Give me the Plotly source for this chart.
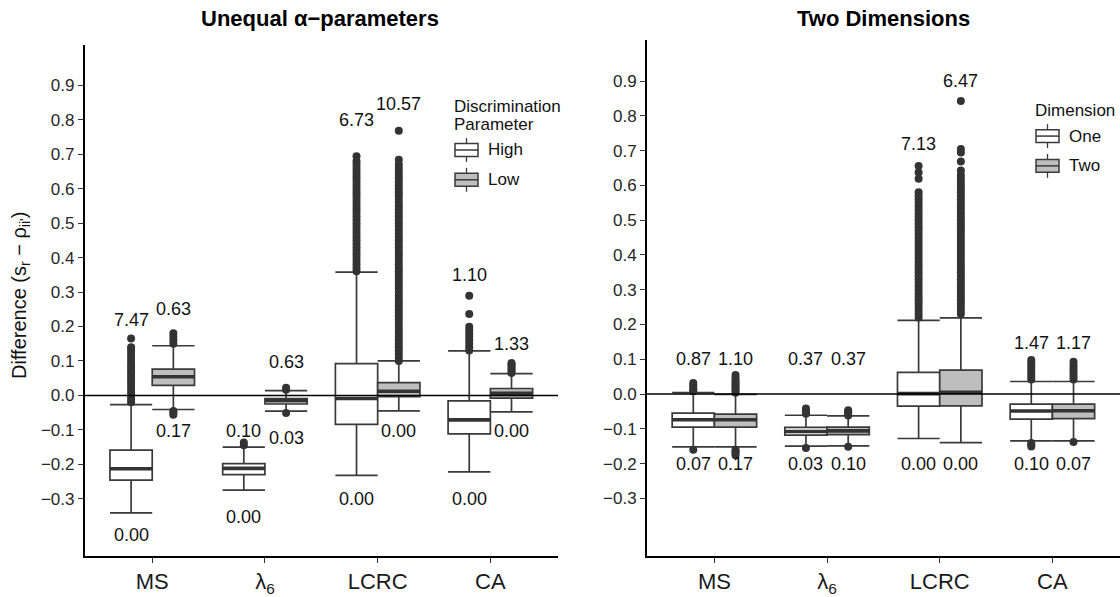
import plotly.graph_objects as go

FONT = "Liberation Sans, Arial, sans-serif"
W, H = 1120, 597

methods = ["MS", "λ<sub>6</sub>", "LCRC", "CA"]
positions = [1, 2, 3, 4]

# ---- Panel 1: Unequal alpha-parameters (High / Low discrimination) ----
high_q1 = [-0.246, -0.230, -0.084, -0.112]
high_med = [-0.213, -0.212, -0.009, -0.071]
high_q3 = [-0.159, -0.198, 0.092, -0.016]
high_lo = [-0.341, -0.275, -0.232, -0.222]
high_hi = [-0.027, -0.150, 0.358, 0.129]
high_out = [
    [-0.02, -0.01, 0.00, 0.01, 0.02, 0.03, 0.04, 0.05, 0.06, 0.07, 0.08,
     0.09, 0.10, 0.11, 0.12, 0.13, 0.14, 0.165],
    [-0.137, -0.145],
    [0.36, 0.37, 0.38, 0.39, 0.40, 0.41, 0.42, 0.43, 0.44, 0.45, 0.46,
     0.47, 0.48, 0.49, 0.50, 0.51, 0.52, 0.53, 0.54, 0.55, 0.56, 0.57,
     0.58, 0.59, 0.60, 0.61, 0.62, 0.63, 0.64, 0.65, 0.66, 0.67, 0.68,
     0.694],
    [0.13, 0.14, 0.15, 0.16, 0.17, 0.18, 0.19, 0.199, 0.236, 0.289],
]
high_top_txt = ["7.47", "0.10", "6.73", "1.10"]
high_bot_txt = ["0.00", "0.00", "0.00", "0.00"]

low_q1 = [0.029, -0.025, -0.004, -0.008]
low_med = [0.054, -0.015, 0.012, 0.006]
low_q3 = [0.076, -0.009, 0.037, 0.020]
low_lo = [-0.041, -0.046, -0.045, -0.048]
low_hi = [0.144, 0.014, 0.100, 0.063]
low_out = [
    [0.15, 0.16, 0.17, 0.18, -0.045, -0.05, -0.056],
    [0.016, 0.022, -0.051],
    [0.10, 0.11, 0.12, 0.13, 0.14, 0.15, 0.16, 0.17, 0.18, 0.19, 0.20,
     0.21, 0.22, 0.23, 0.24, 0.25, 0.26, 0.27, 0.28, 0.29, 0.30, 0.31,
     0.32, 0.33, 0.34, 0.35, 0.36, 0.37, 0.38, 0.39, 0.40, 0.41, 0.42,
     0.43, 0.44, 0.45, 0.46, 0.47, 0.48, 0.49, 0.50, 0.51, 0.52, 0.53,
     0.54, 0.55, 0.56, 0.57, 0.58, 0.59, 0.60, 0.61, 0.62, 0.63, 0.64,
     0.65, 0.66, 0.67, 0.684, 0.768],
    [0.065, 0.07, 0.075, 0.08, 0.085, 0.09, 0.094],
]
low_top_txt = ["0.63", "0.63", "10.57", "1.33"]
low_bot_txt = ["0.17", "0.03", "0.00", "0.00"]

# ---- Panel 2: Two Dimensions (One / Two) ----
one_q1 = [-0.095, -0.118, -0.035, -0.072]
one_med = [-0.074, -0.108, 0.001, -0.049]
one_q3 = [-0.055, -0.096, 0.062, -0.029]
one_lo = [-0.152, -0.150, -0.128, -0.135]
one_hi = [0.004, -0.061, 0.212, 0.036]
one_out = [
    [0.008, 0.014, 0.02, 0.026, 0.032, -0.16],
    [-0.042, -0.047, -0.052, -0.057, -0.155],
    [0.22, 0.23, 0.24, 0.25, 0.26, 0.27, 0.28, 0.29, 0.30, 0.31, 0.32,
     0.33, 0.34, 0.35, 0.36, 0.37, 0.38, 0.39, 0.40, 0.41, 0.42, 0.43,
     0.44, 0.45, 0.46, 0.47, 0.48, 0.49, 0.50, 0.51, 0.52, 0.53, 0.54,
     0.55, 0.56, 0.57, 0.58, 0.619, 0.637, 0.656],
    [0.042, 0.05, 0.058, 0.066, 0.074, 0.082, 0.09, 0.098,
     -0.141, -0.146, -0.151],
]
one_top_txt = ["0.87", "0.37", "7.13", "1.47"]
one_bot_txt = ["0.07", "0.03", "0.00", "0.10"]

two_q1 = [-0.095, -0.117, -0.034, -0.071]
two_med = [-0.074, -0.106, 0.005, -0.048]
two_q3 = [-0.058, -0.095, 0.069, -0.029]
two_lo = [-0.152, -0.149, -0.140, -0.135]
two_hi = [-0.001, -0.063, 0.219, 0.036]
two_out = [
    [0.004, 0.01, 0.016, 0.022, 0.028, 0.034, 0.04, 0.046, 0.055,
     -0.16, -0.165, -0.17, -0.176],
    [-0.047, -0.052, -0.057, -0.062, -0.152],
    [0.23, 0.24, 0.25, 0.26, 0.27, 0.28, 0.29, 0.30, 0.31, 0.32, 0.33,
     0.34, 0.35, 0.36, 0.37, 0.38, 0.39, 0.40, 0.41, 0.42, 0.43, 0.44,
     0.45, 0.46, 0.47, 0.48, 0.49, 0.50, 0.51, 0.52, 0.53, 0.54, 0.55,
     0.56, 0.57, 0.58, 0.59, 0.60, 0.61, 0.62, 0.63, 0.643, 0.669,
     0.695, 0.705, 0.843],
    [0.042, 0.05, 0.058, 0.066, 0.074, 0.082, 0.093, -0.138],
]
two_top_txt = ["1.10", "0.37", "6.47", "1.17"]
two_bot_txt = ["0.17", "0.10", "0.00", "0.07"]

# label placement (data units) for the percentage annotations
high_top_y = [0.218, -0.104, 0.800, 0.348]
high_bot_y = [-0.405, -0.354, -0.301, -0.301]
low_top_y = [0.251, 0.098, 0.845, 0.148]
low_bot_y = [-0.104, -0.123, -0.104, -0.104]
one_top_y = [0.100, 0.100, 0.719, 0.148]
one_bot_y = [-0.202, -0.202, -0.202, -0.202]
two_top_y = [0.100, 0.100, 0.900, 0.148]
two_bot_y = [-0.202, -0.202, -0.202, -0.202]

BOX_W = 0.375
OFFSET = BOX_W / 2
DARK = "#333333"
EDGE = "#3a3a3a"
FILL_A = "#ffffff"
FILL_B = "#bebebe"
LABEL_FONT = dict(size=18, color="#111")

fig = go.Figure()
annotations = []
shapes = []


def px_x(v):
    return v / W


def px_y(v):
    return 1 - v / H


def add_group(name, xs, q1, med, q3, lo, hi, outs, fill, xa, ya,
              top_txt, top_y, bot_txt, bot_y):
    fig.add_trace(go.Box(
        x=xs, q1=q1, median=med, q3=q3, lowerfence=lo, upperfence=hi,
        width=BOX_W, whiskerwidth=1, boxpoints=False,
        fillcolor=fill, line=dict(color=EDGE, width=1.7),
        name=name, xaxis=xa, yaxis=ya, showlegend=False,
        hoverinfo="skip",
    ))
    # thicker median bars
    mx, my = [], []
    for x, m in zip(xs, med):
        mx += [x - OFFSET, x + OFFSET, None]
        my += [m, m, None]
    fig.add_trace(go.Scatter(
        x=mx, y=my, mode="lines", line=dict(color=DARK, width=3.6),
        showlegend=False, xaxis=xa, yaxis=ya, hoverinfo="skip",
    ))
    # outliers
    ox, oy = [], []
    for x, vals in zip(xs, outs):
        ox += [x] * len(vals)
        oy += vals
    fig.add_trace(go.Scatter(
        x=ox, y=oy, mode="markers",
        marker=dict(color=DARK, size=8, line=dict(width=0)),
        showlegend=False, xaxis=xa, yaxis=ya, hoverinfo="skip",
    ))
    for x, t, y in zip(xs + xs, top_txt + bot_txt, top_y + bot_y):
        annotations.append(dict(x=x, y=y, text=t, xref=xa, yref=ya,
                                showarrow=False, font=LABEL_FONT,
                                xanchor="center", yanchor="middle"))


def add_key(left, top, title_lines, labels, fills):
    """ggplot-style legend: title, then a boxplot glyph per entry."""
    y = top
    for line in title_lines:
        annotations.append(dict(x=px_x(left), y=px_y(y), xref="paper", yref="paper",
                                text=line, showarrow=False, xanchor="left",
                                yanchor="middle", font=dict(size=17, color="#111")))
        y += 18
    y += 8
    for lab, fill in zip(labels, fills):
        kx0, kx1 = left + 3, left + 26
        cx = (kx0 + kx1) / 2
        shapes.append(dict(type="line", xref="paper", yref="paper",
                           x0=px_x(cx), x1=px_x(cx), y0=px_y(y - 12), y1=px_y(y + 12),
                           line=dict(color=EDGE, width=1.3)))
        shapes.append(dict(type="rect", xref="paper", yref="paper",
                           x0=px_x(kx0), x1=px_x(kx1), y0=px_y(y - 6.5), y1=px_y(y + 6.5),
                           fillcolor=fill, line=dict(color=EDGE, width=1.5)))
        shapes.append(dict(type="line", xref="paper", yref="paper",
                           x0=px_x(kx0), x1=px_x(kx1), y0=px_y(y), y1=px_y(y),
                           line=dict(color=EDGE, width=1.5)))
        annotations.append(dict(x=px_x(left + 34), y=px_y(y), xref="paper", yref="paper",
                                text=lab, showarrow=False, xanchor="left",
                                yanchor="middle", font=dict(size=17, color="#111")))
        y += 30


left_pos = [p - OFFSET for p in positions]
right_pos = [p + OFFSET for p in positions]

add_group("High", left_pos, high_q1, high_med, high_q3, high_lo, high_hi,
          high_out, FILL_A, "x", "y",
          high_top_txt, high_top_y, high_bot_txt, high_bot_y)
add_group("Low", right_pos, low_q1, low_med, low_q3, low_lo, low_hi,
          low_out, FILL_B, "x", "y",
          low_top_txt, low_top_y, low_bot_txt, low_bot_y)
add_group("One", left_pos, one_q1, one_med, one_q3, one_lo, one_hi,
          one_out, FILL_A, "x2", "y2",
          one_top_txt, one_top_y, one_bot_txt, one_bot_y)
add_group("Two", right_pos, two_q1, two_med, two_q3, two_lo, two_hi,
          two_out, FILL_B, "x2", "y2",
          two_top_txt, two_top_y, two_bot_txt, two_bot_y)

add_key(452, 107, ["Discrimination", "Parameter"], ["High", "Low"], [FILL_A, FILL_B])
add_key(1033, 111, ["Dimension"], ["One", "Two"], [FILL_A, FILL_B])

tickvals_y = [-0.3, -0.2, -0.1, 0.0, 0.1, 0.2, 0.3, 0.4, 0.5, 0.6, 0.7, 0.8, 0.9]

xaxis_common = dict(
    range=[0.4, 4.6], tickvals=positions, ticktext=methods,
    showline=True, linecolor="black", linewidth=1.5,
    ticks="outside", ticklen=5, tickwidth=1.2, tickcolor="#333",
    tickfont=dict(size=22, color="#1a1a1a"), showgrid=False, zeroline=False,
    fixedrange=True,
)
yaxis_common = dict(
    tickvals=tickvals_y, tickformat=".1f",
    showline=True, linecolor="black", linewidth=1.5,
    ticks="outside", ticklen=5, tickwidth=1.2, tickcolor="#333",
    tickfont=dict(size=17, color="#262626"), showgrid=False, zeroline=False,
    fixedrange=True,
)

shapes += [
    dict(type="line", xref="x domain", yref="y", x0=0, x1=1, y0=0, y1=0,
         line=dict(color="black", width=1.5), layer="above"),
    dict(type="line", xref="x2 domain", yref="y2", x0=0, x1=1, y0=0, y1=0,
         line=dict(color="black", width=1.5), layer="above"),
]

annotations += [
    dict(x=px_x(320), y=px_y(19), xref="paper", yref="paper",
         text="<b>Unequal α−parameters</b>", showarrow=False,
         font=dict(size=22, color="#000"), xanchor="center", yanchor="middle"),
    dict(x=px_x(883), y=px_y(19), xref="paper", yref="paper",
         text="<b>Two Dimensions</b>", showarrow=False,
         font=dict(size=22, color="#000"), xanchor="center", yanchor="middle"),
    dict(x=px_x(20), y=px_y(298), xref="paper", yref="paper",
         text="Difference (s<sub>r</sub> − ρ<sub>ii'</sub>)", showarrow=False,
         textangle=-90, font=dict(size=20, color="#111"),
         xanchor="center", yanchor="middle"),
]

fig.update_layout(
    width=W, height=H,
    margin=dict(l=0, r=0, t=0, b=0),
    paper_bgcolor="white", plot_bgcolor="white",
    font=dict(family=FONT, color="#111"),
    boxmode="overlay",
    showlegend=False,
    xaxis=dict(domain=[px_x(84.6), px_x(558)], anchor="y", **xaxis_common),
    yaxis=dict(domain=[px_y(560), px_y(45)], range=[-0.467, 1.018],
               anchor="x", **yaxis_common),
    xaxis2=dict(domain=[px_x(646.8), 1.0], anchor="y2", **xaxis_common),
    yaxis2=dict(domain=[px_y(560), px_y(40)], range=[-0.4666, 1.019],
                anchor="x2", **yaxis_common),
    shapes=shapes,
    annotations=annotations,
)

fig.write_html("out.html")
